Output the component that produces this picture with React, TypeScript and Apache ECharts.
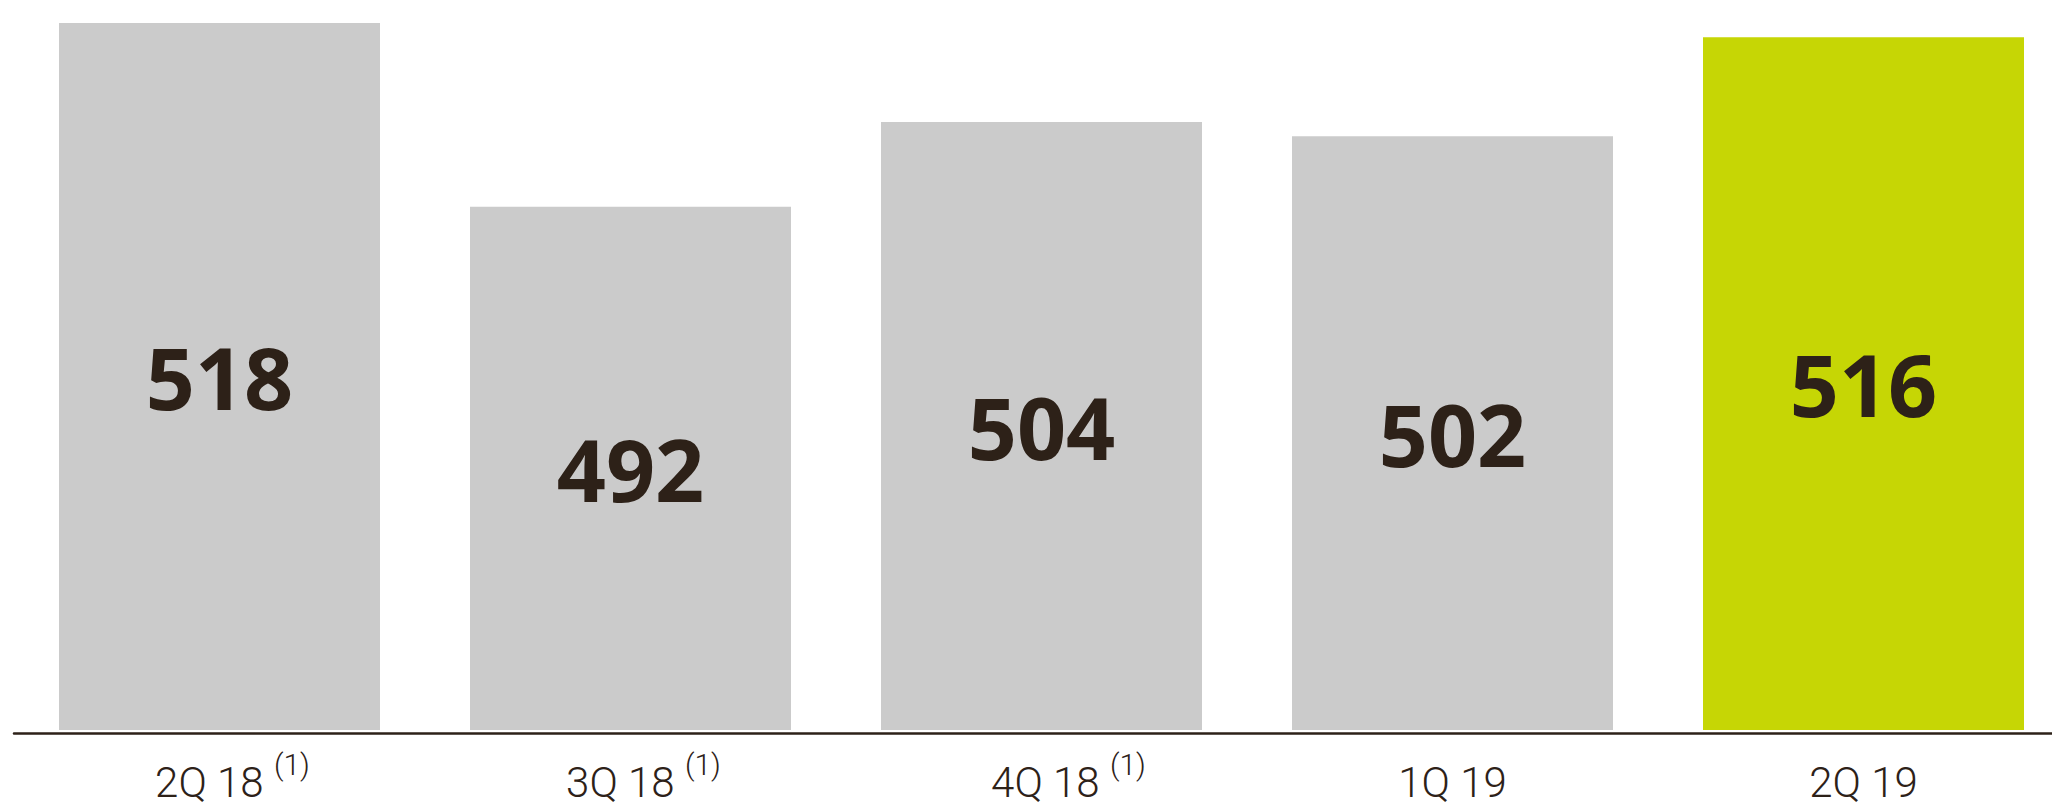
import React, { useEffect, useRef } from "react";
import * as echarts from "echarts";

// Quarterly figures
const quarters = ["2Q 18", "3Q 18", "4Q 18", "1Q 19", "2Q 19"];
const footnotes = ["(1)", "(1)", "(1)", "", ""];
const revenue = [518, 492, 504, 502, 516];

const INK = "#2d2118";
const GREY = "#cbcbcb";
const LIME = "#c6d605";

export default function App() {
  const ref = useRef<HTMLDivElement>(null);

  useEffect(() => {
    const chart = echarts.init(ref.current!, null, { renderer: "svg" });
    const last = quarters.length - 1;
    const labelBase = {
      fontFamily: "Roboto",
      fontWeight: 300,
      fontSize: 42,
      color: INK,
      lineHeight: 66,
      verticalAlign: "middle",
    };

    chart.setOption({
      animation: false,
      backgroundColor: "#ffffff",
      grid: {
        left: 14,
        top: 16,
        width: 2055,
        bottom: 78,
        containLabel: false,
        outerBoundsMode: "none",
      },
      xAxis: {
        type: "category",
        data: quarters,
        offset: 3,
        axisLine: { show: true, lineStyle: { color: INK, width: 2.5 } },
        axisTick: { show: false },
        splitLine: { show: false },
        axisLabel: {
          interval: 0,
          margin: 16,
          formatter: (value: string, index: number) => {
            const note = footnotes[index];
            if (!note) return `{p|${value}}`;
            const style = index === 2 ? "mc" : "m";
            return `{${style}|${value} }{s|${note}}`;
          },
          rich: {
            p: { ...labelBase },
            m: { ...labelBase, padding: [0, 0, 0, 26] },
            mc: { ...labelBase, padding: [0, 0, 0, 54] },
            s: {
              fontFamily: "Roboto",
              fontWeight: 300,
              fontSize: 30,
              color: INK,
              lineHeight: 30,
              verticalAlign: "top",
            },
          },
        },
      },
      yAxis: {
        type: "value",
        min: 418,
        max: 519,
        show: false,
        splitLine: { show: false },
      },
      series: [
        {
          type: "bar",
          data: revenue,
          barWidth: 321,
          itemStyle: {
            color: (p: { dataIndex: number }) => (p.dataIndex === last ? LIME : GREY),
          },
          label: {
            show: true,
            position: "inside",
            fontFamily: "Open Sans",
            fontWeight: "bold",
            fontSize: 86,
            color: INK,
          },
        },
      ],
    });

    return () => chart.dispose();
  }, []);

  return (
    <div
      ref={ref}
      style={{ position: "fixed", left: 0, top: 0, width: 2052, height: 808 }}
    />
  );
}
